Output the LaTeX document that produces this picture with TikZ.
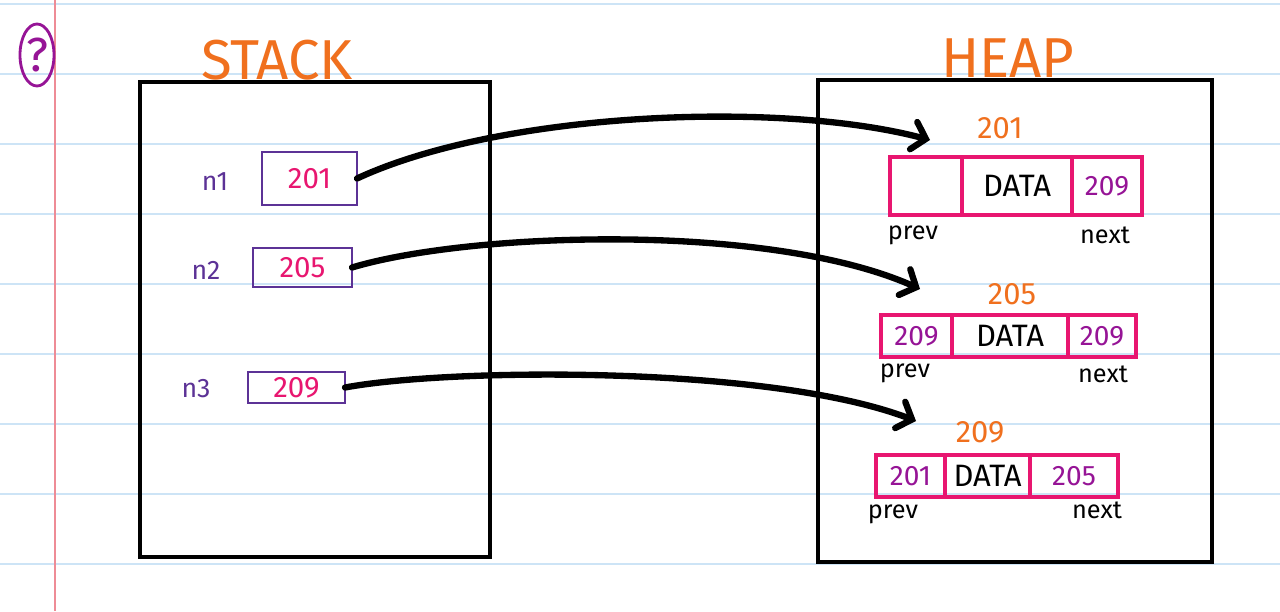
\documentclass[tikz,border=0pt]{standalone}
\usepackage{fontspec}
\setmainfont{Fira Sans}
\usetikzlibrary{shapes.geometric,arrows.meta}
\definecolor{lineblue}{RGB}{205,228,246}
\definecolor{margred}{RGB}{238,140,150}
\definecolor{hdorange}{RGB}{240,112,30}
\definecolor{hdpink}{RGB}{232,22,112}
\definecolor{hdpurple}{RGB}{92,50,150}
\definecolor{hdviolet}{RGB}{150,20,150}
\tikzset{
  titletext/.style={text=hdorange,font=\fontsize{40}{42}\selectfont},
  vartext/.style={text=hdpurple,font=\fontsize{19}{20}\selectfont},
  stackcell/.style={draw=hdpurple,line width=2pt,text=hdpink,inner sep=0pt,outer sep=0pt,font=\fontsize{21}{22}\selectfont},
  heapcell/.style={draw=hdpink,line width=2.2pt,inner sep=0pt,outer sep=0pt,font=\fontsize{20}{22}\selectfont},
  addrtext/.style={text=hdorange,font=\fontsize{22}{23}\selectfont},
  ptrtext/.style={text=hdviolet},
  datatext/.style={text=black,font=\fontsize{22}{23}\selectfont},
  smalltext/.style={text=black,font=\fontsize{18}{19}\selectfont},
  bigbox/.style={draw=black,line width=3pt,inner sep=0pt},
  ptrarrow/.style={draw=black,line width=4.5pt,line cap=round,-{Straight Barb[length=9pt,width=20pt,line cap=round]}}
}
\begin{document}
\begin{tikzpicture}[x=0.025cm,y=-0.025cm]
\useasboundingbox (0,0) rectangle (1280,611);
\fill[white] (0,0) rectangle (1280,611);
% ruled paper
\foreach \yy in {4,74,144,214,284,354,424,494,564}
  \draw[lineblue,line width=0.8pt] (0,\yy) -- (1280,\yy);
\draw[margred,line width=0.8pt] (55,0) -- (55,611);
% question mark
\node[ellipse,draw=hdviolet,line width=2pt,minimum width=0.85cm,minimum height=1.55cm,inner sep=0pt,text=hdviolet,font=\fontsize{34}{36}\selectfont] (q) at (37,55) {?};
% titles
\node[titletext] (stackt) at (277,60) {STACK};
\node[titletext] (heapt) at (1008,58) {HEAP};
% big boxes
\node[bigbox,minimum width=8.75cm,minimum height=11.875cm] (stack) at (315,319.5) {};
\node[bigbox,minimum width=9.85cm,minimum height=12.05cm] (heap) at (1015,321) {};
% stack variables
\node[vartext] (n1) at (215,182) {n1};
\node[vartext] (n2) at (206,270) {n2};
\node[vartext] (n3) at (196,389) {n3};
\node[stackcell,minimum width=2.375cm,minimum height=1.325cm] (s1) at (309.5,178.5) {201};
\node[stackcell,minimum width=2.475cm,minimum height=0.975cm] (s2) at (302.5,267.5) {205};
\node[stackcell,minimum width=2.425cm,minimum height=0.775cm] (s3) at (296.5,387.5) {209};
% heap node 201
\node[addrtext] (a1) at (1000,128) {201};
\node[heapcell,minimum width=1.8cm,minimum height=1.45cm] (h1p) at (926,186) {};
\node[heapcell,datatext,minimum width=2.75cm,minimum height=1.45cm] (h1d) at (1017,186) {DATA};
\node[heapcell,ptrtext,minimum width=1.75cm,minimum height=1.45cm] (h1n) at (1107,186) {209};
\node[smalltext] (h1pl) at (913,235) {prev};
\node[smalltext] (h1nl) at (1105,235) {next};
% heap node 205
\node[addrtext] (a2) at (1012,294) {205};
\node[heapcell,ptrtext,minimum width=1.775cm,minimum height=1.05cm] (h2p) at (916.5,336) {209};
\node[heapcell,datatext,minimum width=2.9cm,minimum height=1.05cm] (h2d) at (1010,336) {DATA};
\node[heapcell,ptrtext,minimum width=1.7cm,minimum height=1.05cm] (h2n) at (1102,336) {209};
\node[smalltext] (h2pl) at (905,373) {prev};
\node[smalltext] (h2nl) at (1103,374) {next};
% heap node 209
\node[addrtext] (a3) at (980,432) {209};
\node[heapcell,ptrtext,minimum width=1.725cm,minimum height=1.05cm] (h3p) at (910.5,476) {201};
\node[heapcell,datatext,minimum width=2.125cm,minimum height=1.05cm] (h3d) at (987.5,476) {DATA};
\node[heapcell,ptrtext,minimum width=2.2cm,minimum height=1.05cm] (h3n) at (1074,476) {205};
\node[smalltext] (h3pl) at (893,514) {prev};
\node[smalltext] (h3nl) at (1097,510) {next};
% arrow ends
\coordinate (e1) at (930,140);
\coordinate (e2) at (920,289);
\coordinate (e3) at (916,421);
% pointers
\draw[ptrarrow] (s1.east) .. controls (500,112) and (780,100) .. (e1);
\draw[ptrarrow] (s2.east) .. controls (470,232) and (770,222) .. (e2);
\draw[ptrarrow] (s3.east) .. controls (450,368) and (770,365) .. (e3);
\end{tikzpicture}
\end{document}
